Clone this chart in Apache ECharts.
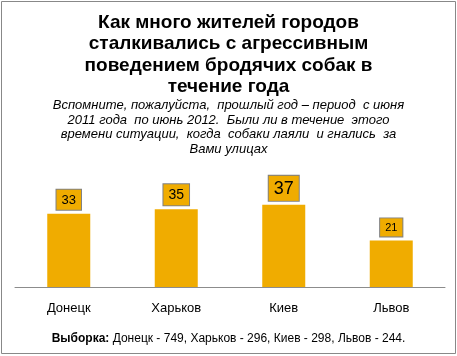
<!DOCTYPE html>
<html><head><meta charset="utf-8">
<script src="https://cdn.jsdelivr.net/npm/echarts@6/dist/echarts.min.js"></script>
<style>html,body{margin:0;padding:0;background:#fff}#c{width:457px;height:356px}</style>
</head><body><div id="c"></div>
<script>
const categories = ['Донецк', 'Харьков', 'Киев', 'Львов'];
const values = [33, 35, 37, 21];
const titleText = 'Как много жителей городов\nсталкивались с агрессивным\nповедением бродячих собак в\nтечение года';
const subtitleText = 'Вспомните, пожалуйста,  прошлый год – период  с июня\n2011 года  по июнь 2012.  Были ли в течение  этого\nвремени ситуации,  когда  собаки лаяли  и гнались  за\nВами улицах';
const footerBold = 'Выборка:';
const footerText = ' Донецк - 749, Харьков - 296, Киев - 298, Львов - 244.';

const labelSizes = [13, 14, 18, 11];
const chart = echarts.init(document.getElementById('c'), null, {renderer: 'canvas'});
const font = '"Liberation Sans", Arial, sans-serif';
chart.setOption({
  animation: false,
  backgroundColor: '#fff',
  graphic: [{type: 'rect', shape: {x: 1.5, y: 1.5, width: 454, height: 352}, style: {fill: 'none', stroke: '#888888', lineWidth: 1}}],
  title: [
    {text: titleText, left: 'center', top: 7, textStyle: {fontFamily: font, fontSize: 19, fontWeight: 'bold', color: '#000', lineHeight: 21.5}},
    {text: subtitleText, left: 'center', top: 93, textStyle: {fontFamily: font, fontSize: 13, fontStyle: 'italic', fontWeight: 'normal', color: '#000', lineHeight: 14.7}},
    {text: '{b|' + footerBold + '}{n|' + footerText + '}', left: 'center', top: 328,
     textStyle: {fontWeight: 'normal', rich: {b: {fontFamily: font, fontSize: 12, fontWeight: 'bold', color: '#000'}, n: {fontFamily: font, fontSize: 12, fontWeight: 'normal', color: '#000'}}}}
  ],
  grid: {left: 15, right: 12, top: 65, bottom: 69},
  xAxis: {type: 'category', data: categories,
    axisLine: {lineStyle: {color: '#8c8c8c', width: 1}}, axisTick: {show: false},
    axisLabel: {color: '#000', fontFamily: font, fontSize: 13, margin: 15}},
  yAxis: {type: 'value', min: 0, max: 100, show: false, splitLine: {show: false}},
  series: [{type: 'bar', barWidth: 43,
    itemStyle: {color: '#F0AC00'},
    data: values.map((v, i) => ({value: v, label: {fontSize: labelSizes[i]}})),
    label: {show: true, position: 'top', distance: 4, color: '#000', fontFamily: font,
      backgroundColor: '#F0AC00', borderColor: '#808080', borderWidth: 1, padding: [4, 5, 3, 5]}
  }]
});
</script></body></html>
